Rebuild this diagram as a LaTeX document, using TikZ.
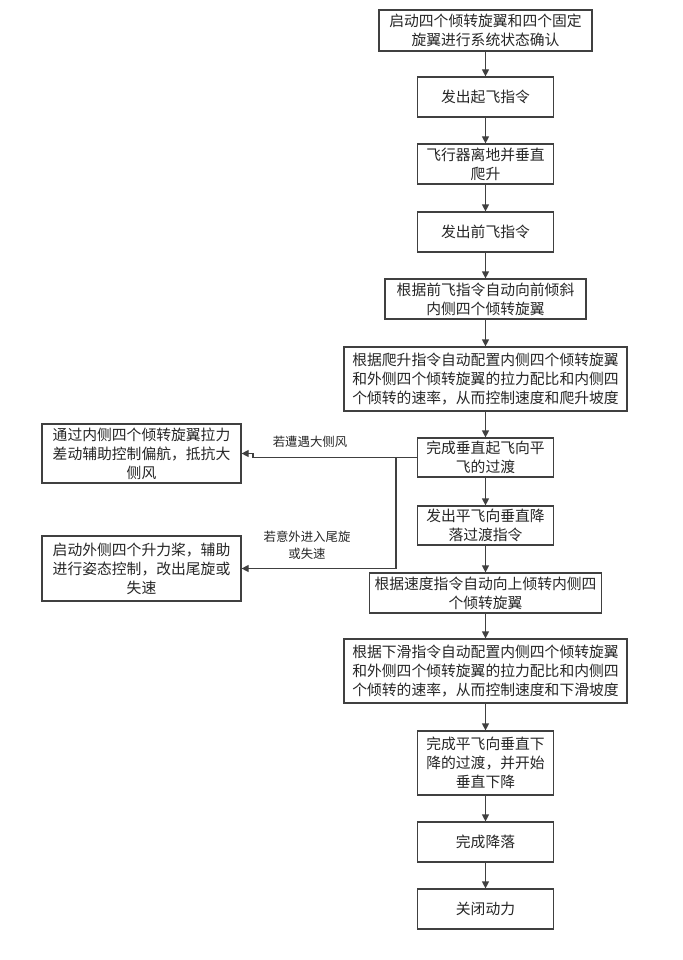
\documentclass[tikz,border=0pt]{standalone}
\usepackage{fontspec}
\usepackage{tikz}
\usetikzlibrary{arrows.meta}
\newfontfamily\cjk{Noto Sans CJK SC}

\begin{document}
\begin{tikzpicture}[
        x=1pt, y=-1pt,
        black!75, line width=1.2pt,
        >={Triangle[length=7pt, width=7pt]},
        etape/.style={rectangle, draw, fill=white,
            inner sep=0pt, minimum width=136, minimum height=40, align=center,
            text=black!85, font=\cjk\fontsize{14.8}{19}\selectfont},
        condition/.style={text=black!85, align=center, inner sep=0pt,
            font=\cjk\fontsize{12.4}{17}\selectfont}
    ]
    \useasboundingbox (0,0) rectangle (682,960);

    % -- Position des noeuds --
    \node[etape, minimum width=213, minimum height=41] (1) at (485.5,30.5)
        {启动四个倾转旋翼和四个固定\\旋翼进行系统状态确认};
    \node[etape] (2) at (485.5,97)  {发出起飞指令};
    \node[etape] (3) at (485.5,164) {飞行器离地并垂直\\爬升};
    \node[etape] (4) at (485.5,232) {发出前飞指令};
    \node[etape, minimum width=201] (5) at (485.5,299)
        {根据前飞指令自动向前倾斜\\内侧四个倾转旋翼};
    \node[etape, minimum width=283, minimum height=64] (6) at (485.5,379)
        {根据爬升指令自动配置内侧四个倾转旋翼\\和外侧四个倾转旋翼的拉力配比和内侧四\\个倾转的速率，从而控制速度和爬升坡度};
    \node[etape, minimum height=39] (7) at (485.5,457.5) {完成垂直起飞向平\\飞的过渡};
    \node[etape, minimum height=39] (8) at (485.5,525.5) {发出平飞向垂直降\\落过渡指令};
    \node[etape, minimum width=232] (9) at (485.5,593)
        {根据速度指令自动向上倾转内侧四\\个倾转旋翼};
    \node[etape, minimum width=283, minimum height=64] (10) at (485.5,671)
        {根据下滑指令自动配置内侧四个倾转旋翼\\和外侧四个倾转旋翼的拉力配比和内侧四\\个倾转的速率，从而控制速度和下滑坡度};
    \node[etape, minimum height=64] (11) at (485.5,763)
        {完成平飞向垂直下\\降的过渡，并开始\\垂直下降};
    \node[etape] (12) at (485.5,842) {完成降落};
    \node[etape] (13) at (485.5,909) {关闭动力};

    % -- Noeuds lateraux --
    \node[etape, minimum width=199, minimum height=59] (a) at (141.5,453.5)
        {通过内侧四个倾转旋翼拉力\\差动辅助控制偏航，抵抗大\\侧风};
    \node[etape, minimum width=199, minimum height=65] (b) at (141.5,568.5)
        {启动外侧四个升力桨，辅助\\进行姿态控制，改出尾旋或\\失速};

    % -- Conditions --
    \node[condition] (vent)   at (310,442) {若遭遇大侧风};
    \node[condition] (vrille) at (307,545) {若意外进入尾旋\\或失速};

    % -- Position des arcs --
    % 1 -> 2 :
    \draw[->] (1) -- (2);
    % 2 -> 3 :
    \draw[->] (2) -- (3);
    % 3 -> 4 :
    \draw[->] (3) -- (4);
    % 4 -> 5 :
    \draw[->] (4) -- (5);
    % 5 -> 6 :
    \draw[->] (5) -- (6);
    % 6 -> 7 :
    \draw[->] (6) -- (7);
    % 7 -> 8 :
    \draw[->] (7) -- (8);
    % 8 -> 9 :
    \draw[->] (8) -- (9);
    % 9 -> 10 :
    \draw[->] (9) -- (10);
    % 10 -> 11 :
    \draw[->] (10) -- (11);
    % 11 -> 12 :
    \draw[->] (11) -- (12);
    % 12 -> 13 :
    \draw[->] (12) -- (13);

    % 7 -> a (avec un petit coude) :
    \coordinate (coude) at (253,453.5);
    \draw[->] (7.west) -| (coude) -- (a.east);

    % 7 -> b :
    \coordinate (branche) at (396,457.5);
    \draw[->] (branche) |- (b.east);

\end{tikzpicture}
\end{document}
